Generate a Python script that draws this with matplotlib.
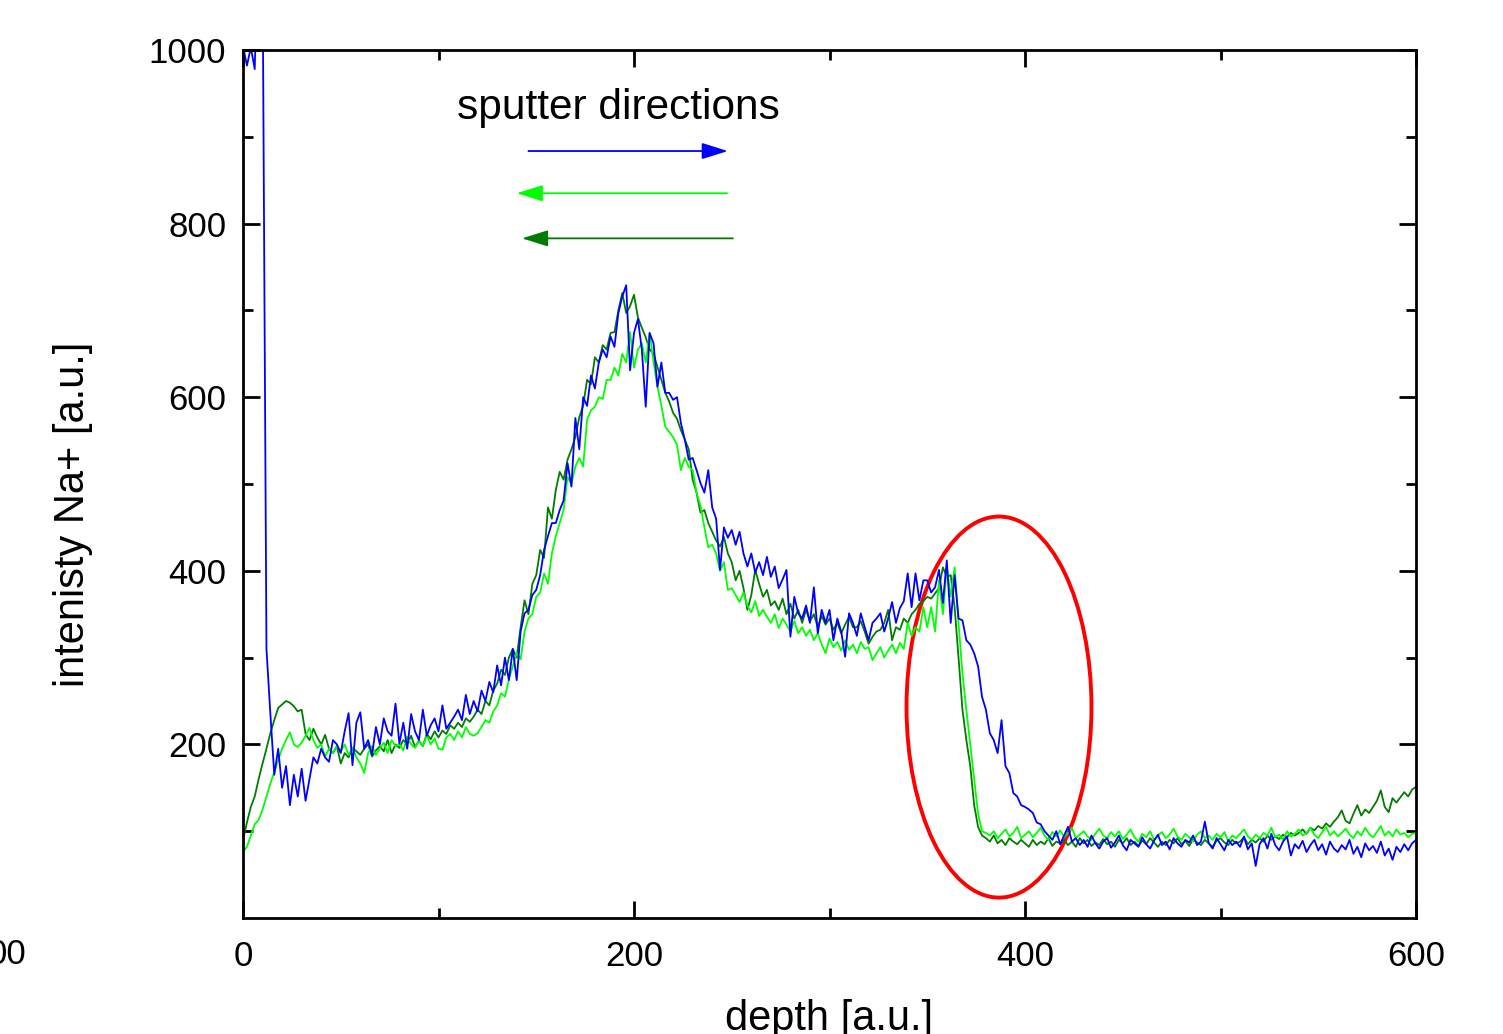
import matplotlib
matplotlib.use("Agg")
import matplotlib.pyplot as plt
from matplotlib.patches import Ellipse
import numpy as np

plt.rcParams['font.family'] = ['Liberation Sans', 'DejaVu Sans']

# depth grid (a.u.), step 2
depth = list(range(0, 601, 2))

blue = [
    1005, 982, 1003, 978, 1150,
    1100, 310, 235, 165, 195,
    150, 175, 130, 165, 140,
    172, 135, 160, 185, 178,
    195, 185, 180, 205, 200,
    190, 215, 236, 176, 225,
    237, 195, 205, 188, 220,
    200, 230, 215, 210, 247,
    201, 225, 195, 235, 215,
    205, 240, 210, 222, 230,
    215, 245, 218, 225, 232,
    240, 228, 257, 235, 250,
    238, 262, 250, 272, 260,
    291, 268, 300, 274, 310,
    274, 330, 351, 355, 372,
    378, 395, 424, 440, 455,
    455, 470, 481, 524, 497,
    576, 540, 600, 590, 625,
    610, 640, 655, 646, 670,
    658, 697, 716, 729, 631,
    674, 690, 655, 589, 674,
    662, 612, 640, 605, 605,
    597, 600, 570, 551, 528,
    530, 516, 501, 490, 516,
    473, 460, 401, 450, 438,
    447, 430, 445, 420, 405,
    420, 398, 410, 395, 416,
    393, 405, 380, 390, 401,
    324, 370, 351, 345, 360,
    340, 381, 328, 355, 340,
    355, 320, 345, 330, 301,
    351, 340, 325, 351, 335,
    320, 340, 345, 351, 330,
    345, 364, 340, 357, 365,
    397, 358, 397, 366, 389,
    389, 375, 381, 401, 363,
    412, 340, 395, 345, 343,
    320, 315, 305, 290, 255,
    240, 213, 205, 190, 228,
    175, 167, 144, 140, 130,
    128, 125, 121, 110, 108,
    100, 95, 90, 100, 85,
    95, 105, 88, 92, 84,
    90, 82, 95, 86, 80,
    88, 92, 81, 87, 95,
    84, 78, 90, 86, 82,
    93, 85, 80, 89, 96,
    84, 88, 79, 92, 86,
    82, 90, 87, 95, 84,
    88, 111, 86, 80, 92,
    85, 78, 90, 84, 88,
    82, 94, 79, 86, 60,
    85, 92, 80, 97, 84,
    78, 88, 94, 72, 85,
    80, 89, 76, 84, 90,
    78, 85, 73, 88, 80,
    76, 84, 79, 90, 74,
    82, 70, 86, 78, 83,
    75, 88, 72, 80, 67,
    82, 76, 85, 78, 86,
    90,
]

dark_green = [
    90, 110, 128, 140, 160,
    178, 195, 213, 228, 242,
    246, 250, 248, 244, 238,
    240, 212, 205, 218, 208,
    200, 211, 195, 190, 198,
    178, 190, 185, 196, 192,
    188, 195, 200, 186, 193,
    198, 192, 205, 190, 200,
    196, 205, 200, 210, 197,
    204, 198, 212, 206, 215,
    208, 216, 212, 222, 218,
    225, 220, 230, 226, 232,
    240, 235, 250, 245, 262,
    270, 286, 280, 300, 310,
    300, 335, 366, 350, 385,
    395, 424, 415, 473, 460,
    493, 514, 505, 528, 540,
    554, 577, 590, 620, 615,
    646, 640, 660, 655, 674,
    675, 700, 720, 697, 705,
    718, 692, 680, 669, 655,
    650, 635, 620, 605, 595,
    582, 575, 562, 551, 540,
    505, 490, 467, 470, 455,
    445, 435, 428, 439, 420,
    410, 389, 400, 380, 355,
    372, 401, 385, 370, 378,
    360, 365, 355, 368, 350,
    362, 345, 355, 340, 355,
    342, 350, 335, 348, 338,
    345, 332, 340, 328, 338,
    347, 335, 335, 342, 330,
    316, 324, 330, 332, 340,
    355, 320, 335, 332, 345,
    340, 350, 355, 362, 365,
    370, 368, 374, 380, 404,
    393, 395, 358, 300, 240,
    205, 175, 130, 105, 95,
    92, 88, 95, 86, 90,
    84, 92, 88, 85, 90,
    86, 82, 90, 84, 88,
    85, 92, 83, 88, 86,
    90, 84, 88, 82, 92,
    86, 90, 83, 87, 84,
    91, 85, 88, 82, 90,
    86, 92, 84, 88, 83,
    89, 85, 92, 87, 82,
    88, 84, 90, 86, 92,
    85, 89, 83, 91, 87,
    84, 90, 86, 82, 89,
    92, 87, 84, 90, 86,
    88, 93, 85, 90, 87,
    92, 88, 95, 90, 94,
    91, 96, 93, 98, 95,
    98, 102, 97, 104, 101,
    106, 103, 109, 105, 111,
    116, 124, 112, 109, 120,
    130, 118, 125, 121, 128,
    135, 147, 128, 122, 138,
    133, 139, 145, 140, 148,
    151,
]

light_green = [
    76, 82, 95, 108, 113,
    125, 140, 155, 168, 182,
    195, 205, 214, 200, 197,
    202, 210, 219, 205, 196,
    200, 186, 195, 190, 198,
    192, 200, 188, 196, 185,
    178, 167, 190, 198, 188,
    195, 202, 190, 205, 198,
    200, 193, 209, 200, 196,
    205, 198, 210, 200, 207,
    195, 194, 208, 212, 205,
    215, 208, 220, 212, 210,
    213, 220, 228, 225, 238,
    245, 259, 255, 275, 290,
    305, 298, 330, 345, 350,
    370, 375, 397, 385, 420,
    440, 455, 470, 508, 500,
    520, 530, 520, 574, 585,
    589, 600, 598, 620, 620,
    634, 625, 650, 640, 675,
    634, 655, 662, 640, 674,
    640, 612, 590, 566, 560,
    554, 545, 516, 530, 520,
    516, 490, 475, 450, 427,
    430, 420, 400, 410, 378,
    380, 372, 364, 375, 360,
    352, 365, 348, 355, 347,
    340, 350, 334, 345, 338,
    330, 342, 328, 335, 325,
    332, 320, 328, 315, 305,
    322, 312, 318, 308, 320,
    309, 315, 305, 318, 310,
    312, 297, 305, 312, 300,
    308, 315, 305, 317, 310,
    340, 325, 335, 330, 358,
    335, 358, 330, 389, 350,
    404, 370, 404, 340, 282,
    240, 200, 160, 120, 100,
    98, 95, 100, 92, 97,
    102, 94, 98, 105, 92,
    96, 100, 93, 98, 104,
    95, 90, 99, 94, 101,
    93, 98, 104, 92, 96,
    100, 94, 90, 97, 103,
    95, 92, 99, 94, 100,
    91, 96, 102, 93, 88,
    97, 93, 100, 90, 95,
    99, 92, 96, 103, 94,
    90, 97, 93, 88, 96,
    100, 92, 95, 90, 97,
    93, 99, 88, 95, 92,
    97, 102, 94, 90, 96,
    92, 98, 95, 104, 93,
    96, 90, 100, 94, 97,
    102, 95, 98, 104, 96,
    92, 99, 105, 95, 100,
    94, 98, 103, 96, 92,
    100, 95, 104, 97, 93,
    99, 106, 95, 100, 94,
    102, 96, 98, 93, 97,
    98,
]

x_ticks = [0, 200, 400, 600]
y_ticks = [200, 400, 600, 800, 1000]

W, H = 1503, 1034
fig = plt.figure(figsize=(W / 100, H / 100), dpi=100)
ax = fig.add_axes([243 / W, (H - 918) / H, (1416 - 243) / W, (918 - 50) / H])

ax.plot(depth, dark_green, color='#007d00', lw=1.3)
ax.plot(depth, light_green, color='#00ff00', lw=1.3)
ax.plot(depth, blue, color='#0000ff', lw=1.3)

ax.set_xlim(0, 600)
ax.set_ylim(0, 1000)
ax.set_xticks(x_ticks)
ax.set_yticks(y_ticks)
ax.set_xticks([100, 300, 500], minor=True)
ax.set_yticks([100, 300, 500, 700, 900], minor=True)
ax.tick_params(which='both', direction='in', top=True, right=True, width=2.0)
ax.tick_params(which='major', length=12, labelsize=25)
ax.tick_params(axis='y', which='major', pad=12)
ax.tick_params(axis='x', which='major', pad=16)
ax.tick_params(which='minor', length=7)
for s in ax.spines.values():
    s.set_linewidth(2.0)

ax.set_xlabel('depth [a.u.]', fontsize=30)
ax.xaxis.set_label_coords(0.5, -0.093)
ax.set_ylabel('intenisty Na+ [a.u.]', fontsize=30)
ax.yaxis.set_label_coords(-0.128, 0.465)

# annotation: sputter directions
ax.text(109.5, 921, 'sputter directions', fontsize=30.5, ha='left', va='baseline')
arrow_kw = dict(arrowstyle='-|>,head_length=0.8,head_width=0.25', mutation_scale=20,
                lw=1.3, shrinkA=0, shrinkB=0)
ax.annotate('', xy=(248, 883.6), xytext=(146, 883.6),
            arrowprops=dict(color='#0000ff', **arrow_kw))
ax.annotate('', xy=(140, 835), xytext=(247.6, 835),
            arrowprops=dict(color='#00ff00', **arrow_kw))
ax.annotate('', xy=(142.7, 783), xytext=(250.6, 783),
            arrowprops=dict(color='#007d00', **arrow_kw))

ax.add_patch(Ellipse((386.7, 243), width=94.6, height=439, fill=False,
                     ec='#ff0000', lw=2.8))

fig.text(26 / W, 1 - 955 / H, '00', fontsize=25, ha='right', va='center')

fig.savefig('out.png', dpi=100)
